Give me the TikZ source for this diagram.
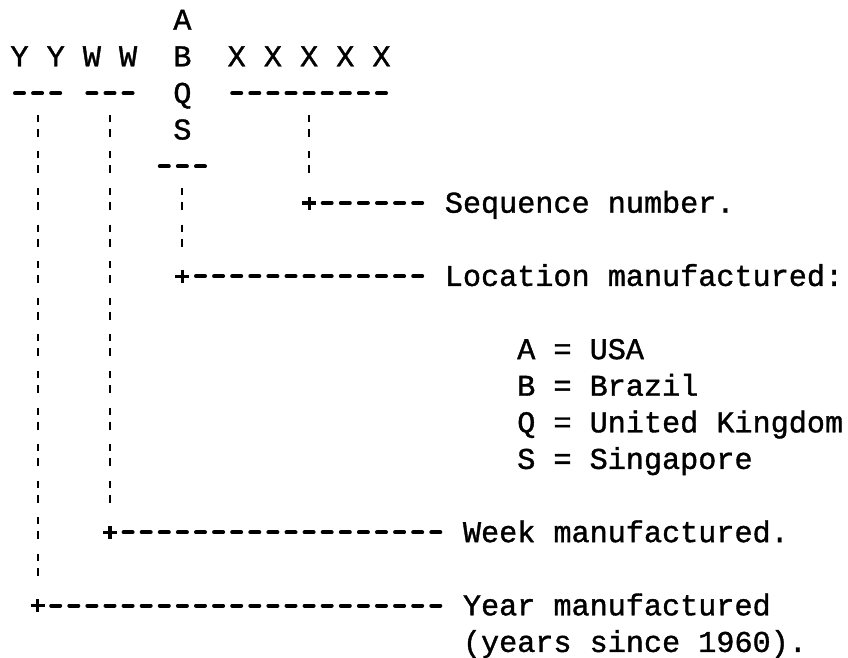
\documentclass[tikz,border=0pt]{standalone}
\usepackage{fontspec}
\usetikzlibrary{calc}
\newfontfamily\monofam[FakeBold=1.2]{Liberation Mono}
\newcommand{\colx}[1]{19.5+18.1*(#1)}
\newcommand{\rowy}[1]{20+36.6*(#1)}
\newcommand{\rowb}[1]{29.7+36.6*(#1)}
\tikzset{
  every node/.style={inner sep=0pt, outer sep=0pt},
  chr/.style={font=\monofam\fontsize{30.17}{36}\selectfont, anchor=base},
  txt/.style={font=\monofam\fontsize{30.17}{36}\selectfont, anchor=base west},
  hline/.style={line width=4pt, line cap=round, dash pattern=on 9pt off 9.1pt},
  vline/.style={line width=2pt, dash pattern=on 7pt off 7pt on 8pt off 14.6pt},
  plusarm/.style={line width=3.2pt},
}
\begin{document}
\begin{tikzpicture}[x=1pt,y=-1pt]
\useasboundingbox (0,0) rectangle (848,657);
% header letters
\node[chr] (Y1) at ({\colx{0}},{\rowb{1}}) {Y};
\node[chr] (Y2) at ({\colx{2}},{\rowb{1}}) {Y};
\node[chr] (W1) at ({\colx{4}},{\rowb{1}}) {W};
\node[chr] (W2) at ({\colx{6}},{\rowb{1}}) {W};
\node[chr] (LA) at ({\colx{9}},{\rowb{0}}) {A};
\node[chr] (LB) at ({\colx{9}},{\rowb{1}}) {B};
\node[chr] (LQ) at ({\colx{9}},{\rowb{2}}) {Q};
\node[chr] (LS) at ({\colx{9}},{\rowb{3}}) {S};
\node[chr] (X1) at ({\colx{12}},{\rowb{1}}) {X};
\node[chr] (X2) at ({\colx{14}},{\rowb{1}}) {X};
\node[chr] (X3) at ({\colx{16}},{\rowb{1}}) {X};
\node[chr] (X4) at ({\colx{18}},{\rowb{1}}) {X};
\node[chr] (X5) at ({\colx{20}},{\rowb{1}}) {X};
% underlines
\draw[hline] ({\colx{0}-4.5},{\rowy{2}}) -- ({\colx{2}+4.5},{\rowy{2}});
\draw[hline] ({\colx{4}-4.5},{\rowy{2}}) -- ({\colx{6}+4.5},{\rowy{2}});
\draw[hline] ({\colx{12}-4.5},{\rowy{2}}) -- ({\colx{20}+4.5},{\rowy{2}});
\draw[hline] ({\colx{8}-4.5},{\rowy{4}}) -- ({\colx{10}+4.5},{\rowy{4}});
% labels
\node[txt] (seq) at ({\colx{23.5}},{\rowb{5}}) {Sequence number.};
\node[txt] (loc) at ({\colx{23.5}},{\rowb{7}}) {Location manufactured:};
\node[txt] (la) at ({\colx{27.5}},{\rowb{9}}) {A = USA};
\node[txt] (lb) at ({\colx{27.5}},{\rowb{10}}) {B = Brazil};
\node[txt] (lq) at ({\colx{27.5}},{\rowb{11}}) {Q = United Kingdom};
\node[txt] (ls) at ({\colx{27.5}},{\rowb{12}}) {S = Singapore};
\node[txt] (week) at ({\colx{24.5}},{\rowb{14}}) {Week manufactured.};
\node[txt] (year) at ({\colx{24.5}},{\rowb{16}}) {Year manufactured};
\node[txt] (year2) at ({\colx{24.5}},{\rowb{17}}) {(years since 1960).};
% junction coordinates
\coordinate (ytop) at ({\colx{1}},{\rowy{3}-15});
\coordinate (wtop) at ({\colx{5}},{\rowy{3}-15});
\coordinate (xtop) at ({\colx{16}},{\rowy{3}-15});
\coordinate (stop) at ({\colx{9}},{\rowy{5}-15});
\coordinate (yplus) at ({\colx{1}},{\rowy{16}});
\coordinate (wplus) at ({\colx{5}},{\rowy{14}});
\coordinate (xplus) at ({\colx{16}},{\rowy{5}});
\coordinate (splus) at ({\colx{9}},{\rowy{7}});
% vertical connectors
\draw[vline] (ytop) -- ($(yplus)+(0,-29.6)$);
\draw[vline] (wtop) -- ($(wplus)+(0,-29.6)$);
\draw[vline] (xtop) -- ($(xplus)+(0,-29.6)$);
\draw[vline] (stop) -- ($(splus)+(0,-29.6)$);
% plus marks
\foreach \p in {yplus,wplus,xplus,splus}{
  \draw[plusarm] ($(\p)+(-7,0)$) -- ($(\p)+(7,0)$);
  \draw[plusarm] ($(\p)+(0,-6.5)$) -- ($(\p)+(0,6.5)$);
}
% horizontal connectors
\draw[hline] ($(xplus)+(13.6,0)$) -- ($(seq.west |- xplus)+(-22.65,0)$);
\draw[hline] ($(splus)+(13.6,0)$) -- ($(loc.west |- splus)+(-22.65,0)$);
\draw[hline] ($(wplus)+(13.6,0)$) -- ($(week.west |- wplus)+(-22.65,0)$);
\draw[hline] ($(yplus)+(13.6,0)$) -- ($(year.west |- yplus)+(-22.65,0)$);
\end{tikzpicture}
\end{document}
